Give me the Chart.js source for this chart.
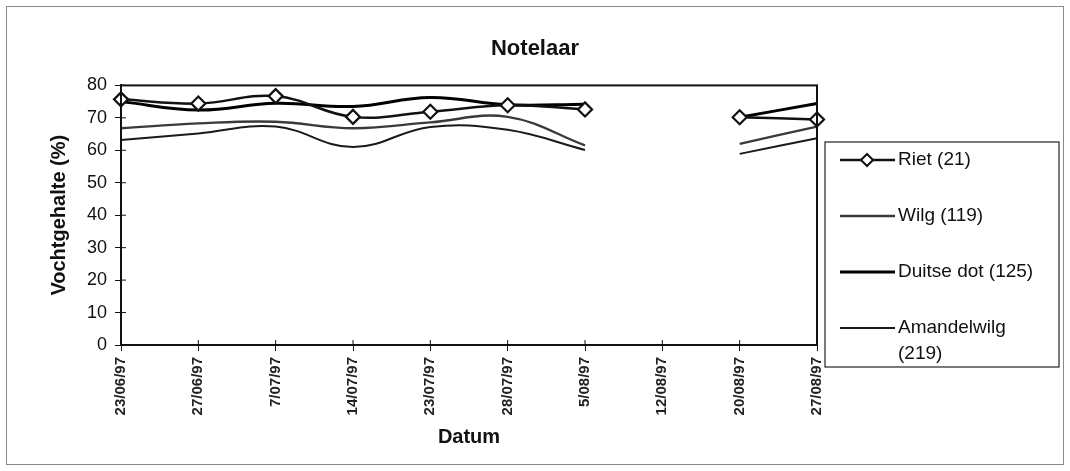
<!DOCTYPE html>
<html>
<head>
<meta charset="utf-8">
<script src="https://cdn.jsdelivr.net/npm/chart.js@4.4.1/dist/chart.umd.min.js"></script>
<style>
    html, body { margin: 0; padding: 0; background: #ffffff; }
    #wrap { width: 1070px; height: 471px; }
</style>
</head>
<body>
<div id="wrap"><canvas id="vochtChart"></canvas></div>
<script>
// Data
const dates = ["23/06/97", "27/06/97", "7/07/97", "14/07/97", "23/07/97", "28/07/97", "5/08/97", "12/08/97", "20/08/97", "27/08/97"];
const riet = [75.7, 74.4, 76.7, 70.3, 71.9, 73.9, 72.6, null, 70.2, 69.5];
const wilg = [66.8, 68.3, 68.8, 66.8, 68.6, 70.3, 61.5, null, 62.0, 67.3];
const duitseDot = [75.0, 72.4, 74.5, 73.5, 76.3, 74.0, 74.2, null, 70.2, 74.4];
const amandelwilg = [63.2, 65.2, 67.3, 61.0, 67.2, 66.3, 60.1, null, 58.9, 63.7];
const seriesNames = ["Riet (21)", "Wilg (119)", "Duitse dot (125)", ["Amandelwilg", "(219)"]];
const yTicks = [0, 10, 20, 30, 40, 50, 60, 70, 80];

const FONT = "'Liberation Sans', Arial, sans-serif";

// Frame, plot border, inner tick marks and the boxed legend on the right
const decorPlugin = {
    id: 'decor',
    afterDraw(chart) {
        const ctx = chart.ctx;
        const area = chart.chartArea;
        ctx.save();

        // outer frame
        ctx.strokeStyle = '#8a8a8a';
        ctx.lineWidth = 1;
        ctx.strokeRect(6.5, 6.5, chart.width - 13, chart.height - 13);

        // plot area box
        ctx.strokeStyle = '#111';
        ctx.lineWidth = 2;
        ctx.strokeRect(area.left, area.top, area.right - area.left, area.bottom - area.top);

        // ticks reaching into the plot
        const x = chart.scales.x, y = chart.scales.y;
        ctx.lineWidth = 1;
        ctx.beginPath();
        y.ticks.forEach((t, i) => {
            const py = y.getPixelForTick(i);
            ctx.moveTo(area.left, py);
            ctx.lineTo(area.left + 5, py);
        });
        x.ticks.forEach((t, i) => {
            const px = x.getPixelForTick(i);
            ctx.moveTo(px, area.bottom);
            ctx.lineTo(px, area.bottom - 5);
        });
        ctx.stroke();

        // legend box
        const box = { left: 825, top: 142, right: 1059, bottom: 367 };
        ctx.strokeStyle = '#222';
        ctx.lineWidth = 1.2;
        ctx.strokeRect(box.left, box.top, box.right - box.left, box.bottom - box.top);

        ctx.font = '19px ' + FONT;
        ctx.fillStyle = '#111';
        ctx.textBaseline = 'middle';
        ctx.textAlign = 'left';
        chart.data.datasets.forEach((ds, i) => {
            const rowY = 160 + i * 56;
            ctx.strokeStyle = ds.borderColor;
            ctx.lineWidth = ds.borderWidth;
            ctx.beginPath();
            ctx.moveTo(840, rowY);
            ctx.lineTo(895, rowY);
            ctx.stroke();
            if (ds.pointRadius > 0) {
                ctx.beginPath();
                ctx.moveTo(867, rowY - 6);
                ctx.lineTo(873, rowY);
                ctx.lineTo(867, rowY + 6);
                ctx.lineTo(861, rowY);
                ctx.closePath();
                ctx.fillStyle = '#fff';
                ctx.fill();
                ctx.lineWidth = 2;
                ctx.stroke();
                ctx.fillStyle = '#111';
            }
            const lines = [].concat(seriesNames[i]);
            lines.forEach((txt, j) => {
                ctx.fillText(txt, 898, rowY + j * 26);
            });
        });
        ctx.restore();
    }
};

function makeDataset(name, values, color, width, withMarkers) {
    return {
        label: [].concat(name).join(' '),
        data: values,
        borderColor: color,
        borderWidth: width,
        tension: 0.4,
        spanGaps: false,
        pointStyle: 'rectRot',
        pointRadius: withMarkers ? 7 : 0,
        pointBackgroundColor: '#fff',
        pointBorderColor: color,
        pointBorderWidth: 2.2,
        fill: false
    };
}

new Chart(document.getElementById('vochtChart'), {
    type: 'line',
    data: {
        labels: dates,
        datasets: [
            makeDataset(seriesNames[0], riet, '#111', 2.5, true),
            makeDataset(seriesNames[1], wilg, '#3a3a3a', 2.3, false),
            makeDataset(seriesNames[2], duitseDot, '#000', 3, false),
            makeDataset(seriesNames[3], amandelwilg, '#1a1a1a', 2, false)
        ]
    },
    options: {
        responsive: true,
        maintainAspectRatio: false,
        animation: false,
        layout: { padding: 0 },
        plugins: {
            legend: { display: false },
            tooltip: { enabled: false },
            title: {
                display: true,
                text: 'Notelaar',
                color: '#111',
                font: { family: FONT, size: 22, weight: 'bold' },
                padding: { top: 36, bottom: 23 }
            }
        },
        scales: {
            x: {
                offset: false,
                grid: { display: true, drawOnChartArea: false, drawTicks: true, tickLength: 6, color: '#111' },
                border: { display: true, color: '#111', width: 2 },
                ticks: {
                    color: '#222',
                    autoSkip: false,
                    minRotation: 90,
                    maxRotation: 90,
                    padding: 6,
                    font: { family: FONT, size: 15, weight: 'bold' }
                },
                title: {
                    display: true,
                    text: 'Datum',
                    color: '#111',
                    font: { family: FONT, size: 20, weight: 'bold' },
                    padding: { top: 0, bottom: 22 }
                },
                afterFit(scale) { scale.height = 126; }
            },
            y: {
                min: 0,
                max: 80,
                afterBuildTicks(scale) { scale.ticks = yTicks.map(v => ({ value: v })); },
                grid: { display: true, drawOnChartArea: false, drawTicks: true, tickLength: 6, color: '#111' },
                border: { display: true, color: '#111', width: 2 },
                ticks: {
                    color: '#111',
                    padding: 8,
                    font: { family: FONT, size: 18 }
                },
                title: {
                    display: true,
                    text: 'Vochtgehalte (%)',
                    color: '#111',
                    font: { family: FONT, size: 20, weight: 'bold' },
                    padding: { top: 47, bottom: 0 }
                },
                afterFit(scale) { scale.width = 121; }
            },
            // empty axis that keeps room for the legend box
            yR: {
                position: 'right',
                display: true,
                grid: { display: false },
                border: { display: false },
                ticks: { display: false },
                afterFit(scale) { scale.width = 253; }
            }
        }
    },
    plugins: [decorPlugin]
});
</script>
</body>
</html>
